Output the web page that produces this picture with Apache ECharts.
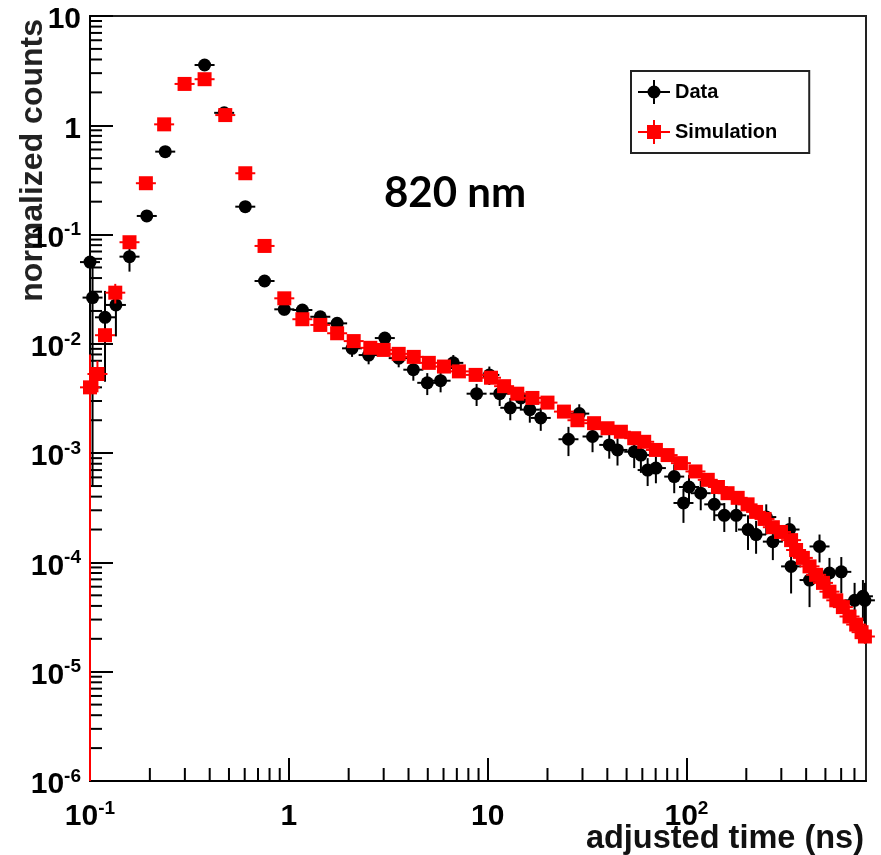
<!DOCTYPE html>
<html><head><meta charset="utf-8">
<script src="https://cdn.jsdelivr.net/npm/echarts@6/dist/echarts.min.js"></script>
<style>html,body{margin:0;padding:0;background:#fff}#c{width:881px;height:855px}</style>
</head><body><div id="c"></div>
<script>
// ---- Data ----
const dataX = [0.100,0.103,0.119,0.135,0.158,0.193,0.239,0.377,0.473,0.604,0.755,0.949,
  1.17,1.44,1.75,2.08,2.52,3.04,3.57,4.23,4.97,5.80,6.72,8.80,10.2,11.5,13.0,14.7,16.3,18.5,
  25.5,28.9,33.7,40.9,45.0,54.6,59.0,63.8,70.2,86.8,96.6,103,118,138,155,178,204,224,252,272,
  330,336,416,467,524,601,701,772,790];
const dataY = [0.056,0.0265,0.0175,0.0227,0.0628,0.148,0.574,3.56,1.30,0.180,0.0376,0.0207,
  0.0204,0.0177,0.0154,0.0091,0.0079,0.0113,0.0074,0.0058,0.0044,0.0046,0.0067,0.0035,0.0052,0.0035,0.0026,0.0032,0.0025,0.0021,
  0.00134,0.0023,0.00142,0.00119,0.00107,0.00103,0.00096,0.00070,0.00073,0.00061,0.00035,0.00049,0.00043,0.00034,0.00027,0.00027,0.00020,0.00018,0.00026,0.000155,
  0.00020,0.000092,0.000069,0.00014,0.000080,0.000082,0.000045,0.000049,0.000045];
const dataErr = [0.055,0.026,0.013,0.011,0.017,0.010,0.020,0.10,0.05,0.008,0.002,0.0025,
  0.002,0.002,0.002,0.0015,0.0014,0.0015,0.0013,0.0012,0.0010,0.0010,0.0012,0.0008,0.0010,0.0008,0.0006,0.0007,0.0006,0.0005,
  0.0004,0.0005,0.0004,0.0003,0.0003,0.0003,0.0003,0.0002,0.0002,0.00018,0.00012,0.00014,0.00013,0.0001,0.00008,0.00008,0.00007,0.00006,0.00008,0.00005,
  0.00006,0.00004,0.00003,0.00004,0.00003,0.00003,0.00002,0.00002,0.00002];

const simX = [0.100,0.109,0.119,0.134,0.158,0.191,0.236,0.299,0.377,0.479,0.604,0.755,0.949,
  1.17,1.44,1.75,2.12,2.57,3.00,3.57,4.25,5.06,6.03,7.17,8.70,10.4,12.1,14.1,16.8,20.0,24.2,28.3,
  34.3,40.1,46.8,54.6,61.3,70.2,80.4,93.8,111,128,144,161,181,203,224,247,272,299,
  336,356,385,416,449,486,524,567,612,661,714,760,790];
const simY = [0.0040,0.0053,0.0120,0.0294,0.0851,0.295,1.02,2.39,2.64,1.24,0.364,0.0787,0.0261,
  0.0168,0.0149,0.0125,0.0106,0.0092,0.0088,0.0081,0.0076,0.0067,0.0062,0.0056,0.0052,0.0049,0.0041,0.0035,0.0032,0.0029,0.0024,0.0020,
  0.00188,0.00169,0.00157,0.00137,0.00127,0.00107,0.00096,0.00081,0.00068,0.00057,0.00049,0.00043,0.00039,0.00034,0.00029,0.00025,0.00021,0.00019,
  0.00016,0.00013,0.00011,0.000092,0.000077,0.000065,0.000054,0.000045,0.000039,0.000032,0.000027,0.000023,0.000021];
const simErr = [0.0040,0.0017,0.0015,0.0060,0.0030,0.006,0.02,0.04,0.04,0.02,0.006,0.0015,0.0005,
  0.0003,0.0003,0.0002,0.0002,0.0002,0.0002,0.0002,0.0002,0.0001,0.0001,0.0001,0.0001,0.0001,0.0001,0.0001,0.0001,0.0001,0.0001,0.0001,
  0.00005,0.00005,0.00005,0.00004,0.00004,0.00003,0.00003,0.00003,0.00002,0.00002,0.00002,0.00002,0.00002,0.00002,0.00001,0.00001,0.00001,0.00001,
  0.00001,0.00001,0.00001,0.000005,0.000005,0.000005,0.000004,0.000004,0.000003,0.000003,0.000003,0.000003,0.000003];

const xTickValues = [0.1, 1, 10, 100];
const xTickLabels = ['10^-1', '1', '10', '10^2'];
const yTickValues = [1e-6, 1e-5, 1e-4, 1e-3, 1e-2, 1e-1, 1, 10];
const yTickLabels = ['10^-6', '10^-5', '10^-4', '10^-3', '10^-2', '10^-1', '1', '10'];
const xTitle = 'adjusted time (ns)';
const yTitle = 'normalized counts';
const annotation = '820 nm';
const xMin = 0.1, xMax = 800, yMin = 1e-6, yMax = 10;

const FONT = "'Liberation Sans', Arial, sans-serif";

function fmt(values, labels) {
  return function (v) {
    for (let i = 0; i < values.length; i++) {
      if (Math.abs(Math.log10(v) - Math.log10(values[i])) < 1e-6) {
        const p = labels[i].split('^');
        return p.length > 1 ? '{b|' + p[0] + '}{s|' + p[1] + '}' : '{b|' + p[0] + '}';
      }
    }
    return '';
  };
}
const richStyle = {
  b: { fontFamily: FONT, fontWeight: 'bold', fontSize: 30, lineHeight: 36, color: '#000' },
  s: { fontFamily: FONT, fontWeight: 'bold', fontSize: 19, lineHeight: 14, verticalAlign: 'top', color: '#000' }
};

function zip(xs, ys, es) { return xs.map((x, i) => [x, ys[i], es[i]]); }

function makeRender(kind, color) {
  return function (params, api) {
    const x = api.value(0), y = api.value(1), e = api.value(2);
    const p = api.coord([x, y]);
    const cs = params.coordSys;
    const bottom = cs.y + cs.height;
    const top = api.coord([x, y + e])[1];
    const lo = y - e;
    const bot = lo > yMin ? api.coord([x, lo])[1] : bottom;
    const marker = kind === 'circle'
      ? { type: 'circle', shape: { cx: p[0], cy: p[1], r: 6.5 }, style: { fill: color } }
      : { type: 'rect', shape: { x: p[0] - 7, y: p[1] - 7, width: 14, height: 14 }, style: { fill: color } };
    return {
      type: 'group',
      children: [
        { type: 'line', shape: { x1: p[0], y1: top, x2: p[0], y2: bot }, style: { stroke: color, lineWidth: 2 } },
        { type: 'line', shape: { x1: p[0] - 10, y1: p[1], x2: p[0] + 10, y2: p[1] }, style: { stroke: color, lineWidth: 2 } },
        marker
      ]
    };
  };
}

function minorTicks(params, api) {
  const cs = params.coordSys;
  const left = cs.x, bottom = cs.y + cs.height;
  const ch = [];
  for (let e = -1; e <= 2; e++) for (let k = 2; k <= 9; k++) {
    const v = k * Math.pow(10, e);
    if (v >= xMax) continue;
    const px = api.coord([v, yMin])[0];
    ch.push({ type: 'line', shape: { x1: px, y1: bottom, x2: px, y2: bottom - 13 }, style: { stroke: '#000', lineWidth: 2 } });
  }
  for (let e = -6; e <= 0; e++) for (let k = 2; k <= 9; k++) {
    const v = k * Math.pow(10, e);
    const py = api.coord([xMin, v])[1];
    ch.push({ type: 'line', shape: { x1: left, y1: py, x2: left + 12, y2: py }, style: { stroke: '#000', lineWidth: 2 } });
  }
  return { type: 'group', children: ch };
}

const dataIcon = 'path://M0,11L32,11L32,13L0,13Z M15,0L17,0L17,24L15,24Z M9.5,12A6.5,6.5,0,1,1,22.5,12A6.5,6.5,0,1,1,9.5,12Z';
const simIcon = 'path://M0,11L32,11L32,13L0,13Z M15,0L17,0L17,24L15,24Z M9,5L23,5L23,19L9,19Z';

const chart = echarts.init(document.getElementById('c'), null, { renderer: 'canvas' });
chart.setOption({
  animation: false,
  backgroundColor: '#fff',
  grid: { left: 90, right: 15, top: 16, bottom: 74, show: true, borderColor: '#222', borderWidth: 2, outerBoundsMode: 'none' },
  xAxis: {
    type: 'log', logBase: 10, min: xMin, max: xMax,
    axisLine: { show: true, lineStyle: { color: '#000', width: 2 } },
    axisTick: { show: true, inside: true, length: 23, lineStyle: { color: '#000', width: 2 } },
    splitLine: { show: false },
    axisLabel: { formatter: fmt(xTickValues, xTickLabels), margin: 18, rich: richStyle, showMaxLabel: false }
  },
  yAxis: {
    type: 'log', logBase: 10, min: yMin, max: yMax,
    axisLine: { show: true, lineStyle: { color: '#000', width: 2 } },
    axisTick: { show: true, inside: true, length: 23, lineStyle: { color: '#000', width: 2 } },
    splitLine: { show: false },
    axisLabel: { formatter: fmt(yTickValues, yTickLabels), margin: 9, rich: richStyle, padding: [8, 0, 0, 0] }
  },
  legend: {
    left: 631, top: 71, orient: 'vertical', padding: [9, 32, 9, 7],
    itemWidth: 32, itemHeight: 24, itemGap: 16,
    backgroundColor: '#fff', borderColor: '#222', borderWidth: 2, borderRadius: 0,
    textStyle: { fontFamily: FONT, fontWeight: 'bold', fontSize: 20, color: '#000' },
    data: [
      { name: 'Data', icon: dataIcon, itemStyle: { color: '#000' } },
      { name: 'Simulation', icon: simIcon, itemStyle: { color: '#ff0000' } }
    ]
  },
  graphic: [
    { type: 'text', x: 384, y: 193, style: { text: annotation, font: "bold 42px Lato, 'Open Sans', sans-serif", fill: '#000', verticalAlign: 'middle' } },
    { type: 'text', x: 864, y: 839, style: { text: xTitle, font: "bold 32.5px 'Liberation Sans', Arial, sans-serif", fill: '#111', align: 'right', verticalAlign: 'middle' } },
    { type: 'text', x: 33, y: 19, rotation: Math.PI / 2, style: { text: yTitle, font: "bold 32px 'Liberation Sans', Arial, sans-serif", fill: '#222', align: 'right', verticalAlign: 'middle' } }
  ],
  series: [
    { name: 'ticks', type: 'custom', silent: true, clip: false, z: 3, data: [[1, 1]], renderItem: minorTicks },
    { name: 'Data', type: 'custom', clip: false, z: 4, itemStyle: { color: '#000' },
      data: zip(dataX, dataY, dataErr), encode: { x: 0, y: 1 }, renderItem: makeRender('circle', '#000') },
    { name: 'Simulation', type: 'custom', clip: false, z: 5, itemStyle: { color: '#ff0000' },
      data: zip(simX, simY, simErr), encode: { x: 0, y: 1 }, renderItem: makeRender('rect', '#ff0000') }
  ]
});
</script>
</body></html>
